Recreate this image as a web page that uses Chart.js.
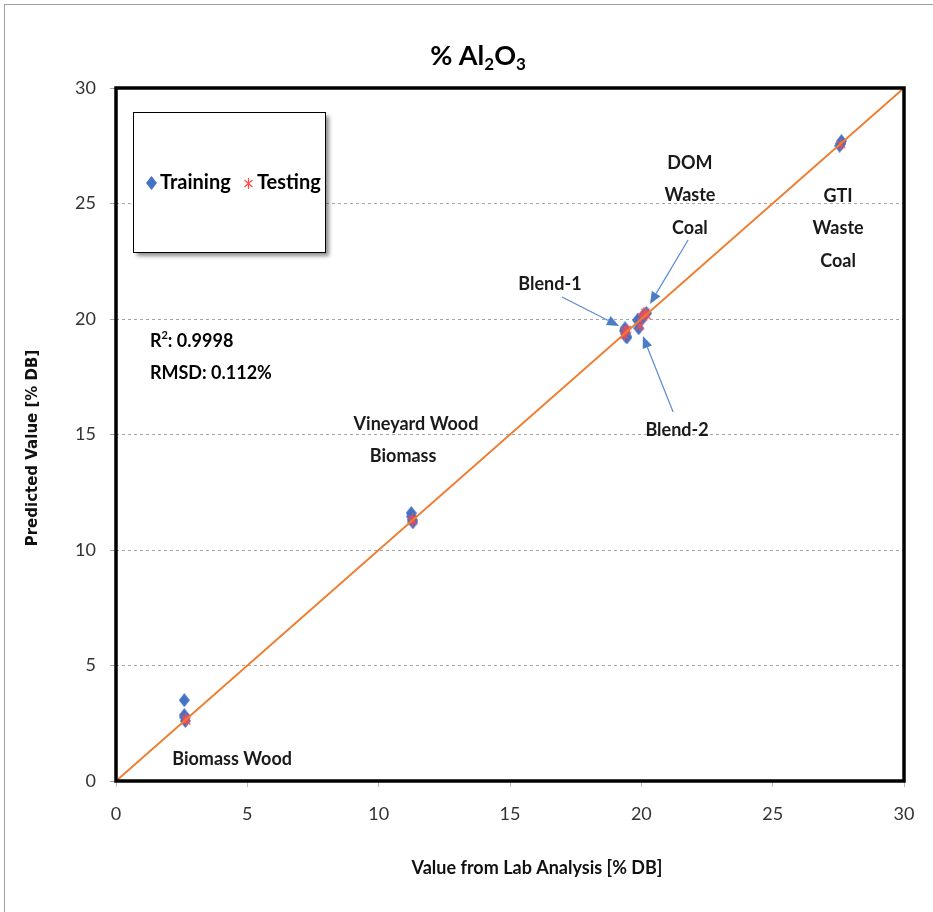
<!DOCTYPE html>
<html>
<head>
<meta charset="utf-8">
<title>% Al2O3</title>
<script src="https://cdn.jsdelivr.net/npm/chart.js@4.4.1/dist/chart.umd.min.js"></script>
<style>
  html, body { margin: 0; padding: 0; background: #fff; }
  canvas { display: block; }
</style>
</head>
<body>
<canvas id="parityChart" width="933" height="912"></canvas>
<script>
/* ==========================================
   DATA
========================================== */

const axisTicks = [0, 5, 10, 15, 20, 25, 30];

// training samples: lab value (x) vs predicted value (y)
const trainingX = [2.60, 2.60, 2.62, 2.64,
                   11.24, 11.25, 11.30, 11.28,
                   19.35, 19.40, 19.45, 19.38, 19.42,
                   19.90, 19.95, 20.00, 20.10, 20.20, 19.85,
                   27.60, 27.55, 27.62];
const trainingY = [3.50, 2.85, 2.75, 2.60,
                   11.60, 11.45, 11.20, 11.30,
                   19.50, 19.35, 19.20, 19.60, 19.25,
                   19.60, 19.90, 20.00, 20.20, 20.25, 19.95,
                   27.60, 27.50, 27.70];

// testing samples
const testingX = [2.65, 2.68,
                  11.30, 11.28,
                  19.40, 19.35, 19.45,
                  20.00, 20.15, 20.20, 19.95,
                  27.60];
const testingY = [2.70, 2.60,
                  11.35, 11.25,
                  19.45, 19.30, 19.55,
                  20.10, 20.30, 20.15, 19.70,
                  27.55];

// 1:1 reference line
const parityX = [0, 30];
const parityY = [0, 30];

// sample labels (data units, text centre)
const sampleLabels = [
  { lines: ["DOM", "Waste", "Coal"], x: 21.85, y: 26.75 },
  { lines: ["GTI", "Waste", "Coal"], x: 27.49, y: 25.32 },
  { lines: ["Blend-1"], x: 16.52, y: 21.52 },
  { lines: ["Blend-2"], x: 21.36, y: 15.19 },
  { lines: ["Vineyard Wood"], x: 11.42, y: 15.45 },
  { lines: ["Biomass"], x: 10.93, y: 14.07 },
  { lines: ["Biomass Wood"], x: 4.42, y: 0.95 }
];

// pointer arrows (data units, from -> to)
const arrows = [
  { x0: 16.98, y0: 20.95, x1: 19.15, y1: 19.70 },
  { x0: 21.78, y0: 23.42, x1: 20.33, y1: 20.65 },
  { x0: 21.21, y0: 15.97, x1: 20.06, y1: 19.26 }
];

const statsR2 = "0.9998";
const statsRMSD = "0.112%";

/* ==========================================
   MARKERS
========================================== */

const BLUE = "#4472C4";
const RED = "#FF4B4B";
const ORANGE = "#ED7D31";

function makeDiamond(w, h, color) {
  const c = document.createElement("canvas");
  c.width = w; c.height = h;
  const g = c.getContext("2d");
  g.fillStyle = color;
  g.beginPath();
  g.moveTo(w / 2, 0);
  g.lineTo(w, h / 2);
  g.lineTo(w / 2, h);
  g.lineTo(0, h / 2);
  g.closePath();
  g.fill();
  return c;
}

function makeAsterisk(size, color) {
  const c = document.createElement("canvas");
  c.width = size; c.height = size;
  const g = c.getContext("2d");
  g.strokeStyle = color;
  g.lineWidth = 1.2;
  g.beginPath();
  g.moveTo(size / 2, 0); g.lineTo(size / 2, size);
  g.moveTo(1.5, 2); g.lineTo(size - 1.5, size - 2);
  g.moveTo(size - 1.5, 2); g.lineTo(1.5, size - 2);
  g.stroke();
  return c;
}

const diamondMarker = makeDiamond(11, 14, BLUE);
const asteriskMarker = makeAsterisk(11, RED);

const toPoints = (xs, ys) => xs.map((x, i) => ({ x: x, y: ys[i] }));

/* ==========================================
   DRAWING HELPERS
========================================== */

const FONT = "Lato, 'Open Sans', sans-serif";

// draws text with a sub/superscript run: parts = [[text, kind], ...]
function richText(ctx, parts, x, y, size, align) {
  ctx.save();
  ctx.textBaseline = "middle";
  ctx.textAlign = "left";
  const fontFor = k => "bold " + (k ? Math.round(size * 0.62) : size) + "px " + FONT;
  let total = 0;
  parts.forEach(p => { ctx.font = fontFor(p[1]); total += ctx.measureText(p[0]).width; });
  let cx = align === "center" ? x - total / 2 : x;
  parts.forEach(p => {
    ctx.font = fontFor(p[1]);
    const dy = p[1] === "sub" ? size * 0.3 : p[1] === "sup" ? -size * 0.3 : 0;
    ctx.fillText(p[0], cx, y + dy);
    cx += ctx.measureText(p[0]).width;
  });
  ctx.restore();
}

const decorPlugin = {
  id: "decor",
  beforeDraw(chart) {
    const ctx = chart.ctx;
    ctx.save();
    ctx.fillStyle = "#fff";
    ctx.fillRect(0, 0, chart.width, chart.height);
    // outer frame
    ctx.strokeStyle = "#a0a0a0";
    ctx.lineWidth = 1;
    ctx.strokeRect(4.5, 4.5, chart.width + 10, chart.height + 10);
    ctx.restore();
  },
  afterDraw(chart) {
    const ctx = chart.ctx;
    const area = chart.chartArea;
    const xs = chart.scales.x;
    const ys = chart.scales.y;

    ctx.save();

    // plot border
    ctx.strokeStyle = "#000";
    ctx.lineWidth = 3.5;
    ctx.strokeRect(area.left, area.top, area.right - area.left, area.bottom - area.top);

    // title
    ctx.fillStyle = "#000";
    richText(ctx, [["% Al", ""], ["2", "sub"], ["O", ""], ["3", "sub"]], 478, 56, 27, "center");

    // axis titles
    ctx.fillStyle = "#111";
    ctx.font = "bold 18px " + FONT;
    ctx.textAlign = "center";
    ctx.textBaseline = "middle";
    ctx.fillText("Value from Lab Analysis [% DB]", 537, 868);

    ctx.save();
    ctx.translate(33, 448);
    ctx.rotate(-Math.PI / 2);
    ctx.font = "bold 15px 'DejaVu Sans', sans-serif";
    ctx.fillText("Predicted Value [% DB]", 0, 0);
    ctx.restore();

    // legend box
    const lx = area.left + 17, ly = area.top + 24;
    ctx.save();
    ctx.shadowColor = "rgba(0,0,0,0.45)";
    ctx.shadowOffsetX = 4;
    ctx.shadowOffsetY = 4;
    ctx.shadowBlur = 4;
    ctx.fillStyle = "#fff";
    ctx.fillRect(lx, ly, 192, 140);
    ctx.restore();
    ctx.strokeStyle = "#000";
    ctx.lineWidth = 1;
    ctx.strokeRect(lx + 0.5, ly + 0.5, 192, 140);

    const rowY = ly + 71;
    ctx.drawImage(diamondMarker, lx + 13, rowY - 7);
    ctx.drawImage(asteriskMarker, lx + 110, rowY - 5);
    ctx.fillStyle = "#000";
    ctx.font = "bold 20px " + FONT;
    ctx.textAlign = "left";
    ctx.fillText("Training", lx + 27, rowY);
    ctx.fillText("Testing", lx + 124, rowY);

    // statistics
    richText(ctx, [["R", ""], ["2", "sup"], [": " + statsR2, ""]], xs.getPixelForValue(1.29), ys.getPixelForValue(19.05), 18, "left");
    richText(ctx, [["RMSD: " + statsRMSD, ""]], xs.getPixelForValue(1.29), ys.getPixelForValue(17.66), 18, "left");

    // sample labels
    ctx.fillStyle = "#1a1a1a";
    ctx.font = "bold 18px " + FONT;
    ctx.textAlign = "center";
    sampleLabels.forEach(lab => {
      const px = xs.getPixelForValue(lab.x);
      const py = ys.getPixelForValue(lab.y);
      lab.lines.forEach((t, i) => ctx.fillText(t, px, py + i * 32.5));
    });

    // arrows
    ctx.strokeStyle = "#5B8BD0";
    ctx.fillStyle = "#4A7CC8";
    ctx.lineWidth = 1.2;
    arrows.forEach(a => {
      const x0 = xs.getPixelForValue(a.x0), y0 = ys.getPixelForValue(a.y0);
      const x1 = xs.getPixelForValue(a.x1), y1 = ys.getPixelForValue(a.y1);
      const ang = Math.atan2(y1 - y0, x1 - x0);
      const head = 12, half = 5;
      const bx = x1 - Math.cos(ang) * head, by = y1 - Math.sin(ang) * head;
      ctx.beginPath();
      ctx.moveTo(x0, y0);
      ctx.lineTo(bx, by);
      ctx.stroke();
      ctx.beginPath();
      ctx.moveTo(x1, y1);
      ctx.lineTo(bx + Math.sin(ang) * half, by - Math.cos(ang) * half);
      ctx.lineTo(bx - Math.sin(ang) * half, by + Math.cos(ang) * half);
      ctx.closePath();
      ctx.fill();
    });

    ctx.restore();
  }
};

/* ==========================================
   CHART
========================================== */

new Chart(
  document.getElementById("parityChart"),
  {
    type: "scatter",

    data: {
      datasets: [
        {
          label: "1:1",
          type: "line",
          data: toPoints(parityX, parityY),
          borderColor: ORANGE,
          borderWidth: 2,
          pointRadius: 0,
          fill: false,
          order: 0
        },
        {
          label: "Testing",
          data: toPoints(testingX, testingY),
          pointStyle: asteriskMarker,
          order: 1
        },
        {
          label: "Training",
          data: toPoints(trainingX, trainingY),
          pointStyle: diamondMarker,
          order: 2
        }
      ]
    },

    plugins: [decorPlugin],

    options: {
      responsive: false,
      animation: false,
      layout: { padding: { top: 88, right: 29, left: 0, bottom: 0 } },

      plugins: {
        legend: { display: false },
        title: { display: false },
        tooltip: { enabled: false }
      },

      scales: {
        x: {
          type: "linear",
          min: axisTicks[0],
          max: axisTicks[axisTicks.length - 1],
          afterBuildTicks: s => { s.ticks = axisTicks.map(v => ({ value: v })); },
          afterFit: s => { s.height = 131; },
          border: { display: false },
          grid: {
            drawOnChartArea: false,
            tickLength: 6,
            color: "#bfbfbf"
          },
          ticks: {
            padding: 16,
            color: "#333",
            font: { family: "Lato", size: 18 }
          }
        },
        y: {
          type: "linear",
          min: axisTicks[0],
          max: axisTicks[axisTicks.length - 1],
          afterBuildTicks: s => { s.ticks = axisTicks.map(v => ({ value: v })); },
          afterFit: s => { s.width = 116; },
          // grid line dash lives on the border options in v4
          border: { display: false, dash: [3, 3] },
          grid: {
            tickLength: 6,
            color: c => (c.tick && (c.tick.value === 0 || c.tick.value === 30)) ? "rgba(0,0,0,0)" : "#a6a6a6",
            tickColor: "#a6a6a6",
            tickBorderDash: []
          },
          ticks: {
            padding: 14,
            color: "#333",
            font: { family: "Lato", size: 18 }
          }
        }
      }
    }
  }
);
</script>
</body>
</html>
